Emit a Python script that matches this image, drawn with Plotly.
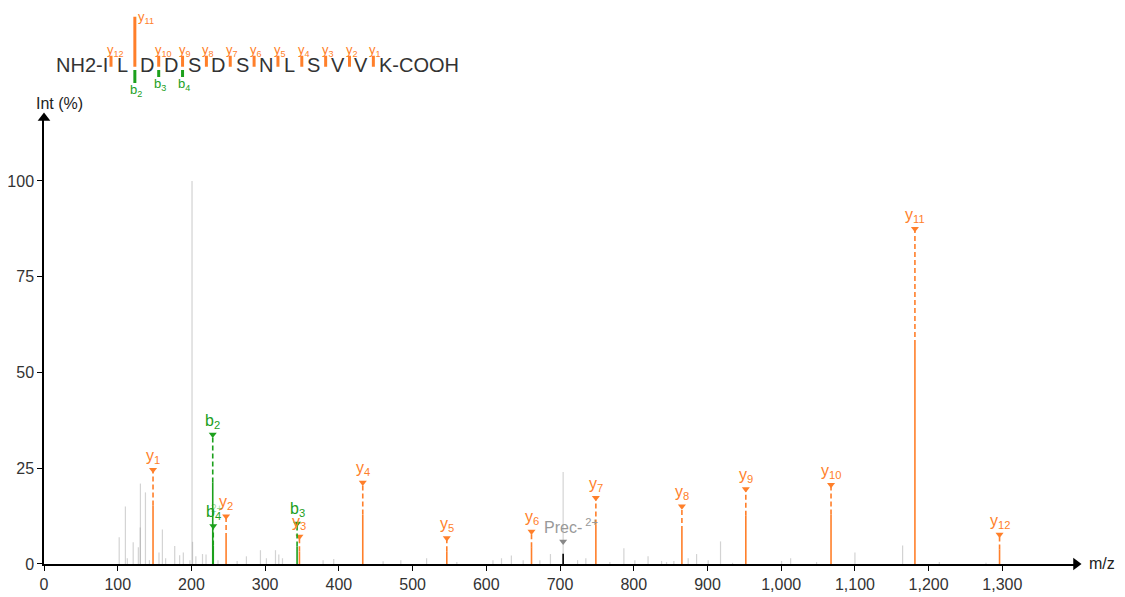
import plotly.graph_objects as go

# ---- data ------------------------------------------------------------------
sequence = "ILDDSDSNLSVVK"

# matched fragment ions: name, m/z, intensity (%), label level (%)
ion_names = ["y1", "b2", "b4", "y2", "b3", "y3", "y4", "y5", "y6",
             "y7", "y8", "y9", "y10", "y11", "y12"]
ion_mz = [147.9, 228.9, 229.6, 247.0, 343.3, 346.5, 432.4, 546.4, 661.3,
          748.6, 865.3, 952.0, 1067.6, 1181.4, 1296.2]
ion_int = [15.3, 21.3, 4.8, 6.8, 4.6, 3.3, 12.9, 3.3, 4.4,
           10.3, 8.6, 12.6, 12.9, 57.2, 3.8]
ion_label_y = [24.6, 33.8, 9.9, 12.5, 10.6, 7.2, 21.3, 6.8, 8.5,
               17.3, 15.1, 19.6, 20.7, 87.5, 7.7]
ion_charge = ["", "", "2+", "", "", "", "", "", "", "", "", "", "", "", ""]

prec_mz = 704.2
prec_int = 2.7
prec_label_y = 5.9

# unmatched peaks
noise_mz = [102.0, 110.4, 113.0, 121.0, 128.0, 130.8, 130.5, 137.6, 143.0,
            156.0, 160.6, 165.0, 177.3, 184.0, 189.0, 198.0, 200.8, 201.5,
            206.0, 215.0, 219.8, 236.0, 262.0, 274.6, 293.6, 301.7, 314.0,
            318.5, 323.5, 378.6, 393.0, 460.0, 484.0, 519.0, 560.0, 609.0,
            620.6, 634.0, 650.0, 672.6, 687.0, 704.2, 723.8, 735.0, 767.6,
            786.6, 801.5, 819.4, 837.7, 844.5, 854.4, 873.8, 885.2, 901.0,
            917.7, 934.0, 1000.5, 1012.8, 1048.0, 1100.0, 1164.7, 1214.5,
            1277.8]
noise_int = [7.0, 15.0, 1.5, 5.7, 4.4, 21.0, 9.5, 18.7, 1.0,
             3.0, 9.0, 1.5, 4.7, 2.3, 3.0, 1.0, 100.0, 5.8,
             2.0, 2.6, 2.5, 1.0, 0.8, 2.0, 3.6, 1.5, 3.6,
             2.5, 1.5, 1.0, 1.3, 0.7, 1.0, 1.5, 0.5, 1.0,
             1.5, 2.2, 1.0, 1.0, 2.6, 24.0, 1.0, 1.5, 0.5,
             4.1, 1.0, 2.0, 0.8, 0.5, 0.8, 1.5, 2.6, 1.0,
             5.9, 0.3, 0.8, 1.5, 0.5, 3.0, 4.8, 0.5, 0.3]

# fragment marks on the sequence (y1..y12, then b2..b4), length in px
seq_y_len = [11, 11, 11, 11, 11, 11, 11, 11, 11, 11, 50, 11]
seq_b_ions = [2, 3, 4]
seq_b_len = [13, 7, 7]

x_ticks = list(range(0, 1400, 100))
y_ticks = [0, 25, 50, 75, 100]

ORANGE = "#FF7F2A"
GREEN = "#1CA01C"
FONT = "Liberation Sans, Arial, sans-serif"

X_END = 1399.9
Y_END = 116.45


def stems(xs, y0s, y1s):
    px, py = [], []
    for x, a, b in zip(xs, y0s, y1s):
        px += [x, x, None]
        py += [a, b, None]
    return px, py


fig = go.Figure()

# gray peaks
sx, sy = stems(noise_mz, [0] * len(noise_mz), noise_int)
fig.add_trace(go.Scatter(x=sx, y=sy, mode="lines",
                         line=dict(color="rgba(150,150,150,0.42)", width=1.2),
                         hoverinfo="skip"))

annos = []
for col, letter in [(ORANGE, "y"), (GREEN, "b")]:
    idx = [i for i, n in enumerate(ion_names) if n[0] == letter]
    mz = [ion_mz[i] for i in idx]
    sx, sy = stems(mz, [0] * len(idx), [ion_int[i] for i in idx])
    fig.add_trace(go.Scatter(x=sx, y=sy, mode="lines",
                             line=dict(color=col, width=1.6), hoverinfo="skip"))
    sx, sy = stems(mz, [ion_int[i] for i in idx], [ion_label_y[i] for i in idx])
    fig.add_trace(go.Scatter(x=sx, y=sy, mode="lines",
                             line=dict(color=col, width=1.6, dash="5px,3px"),
                             hoverinfo="skip"))
    fig.add_trace(go.Scatter(x=mz, y=[ion_label_y[i] for i in idx], mode="markers",
                             marker=dict(symbol="triangle-down", size=7, color=col),
                             hoverinfo="skip"))
    for i in idx:
        annos.append(dict(x=ion_mz[i], y=ion_label_y[i], xref="x", yref="y",
                          text=f"{letter}<sub>{ion_names[i][1:]}</sub>",
                          showarrow=False, yanchor="bottom", yshift=2,
                          font=dict(family=FONT, size=16, color=col)))
        if ion_charge[i]:
            annos.append(dict(x=ion_mz[i], y=ion_label_y[i], xref="x", yref="y",
                              text=ion_charge[i], showarrow=False,
                              yanchor="bottom", yshift=10, xshift=4,
                              font=dict(family=FONT, size=10,
                                        color="rgba(28,160,28,0.45)")))

# precursor
fig.add_trace(go.Scatter(x=[prec_mz, prec_mz], y=[0, prec_int], mode="lines",
                         line=dict(color="black", width=1.6), hoverinfo="skip"))
fig.add_trace(go.Scatter(x=[prec_mz], y=[prec_label_y], mode="markers",
                         marker=dict(symbol="triangle-down", size=7, color="#888"),
                         hoverinfo="skip"))
annos.append(dict(x=prec_mz, y=prec_label_y, xref="x", yref="y",
                  text="Prec-<sup> 2+</sup>", showarrow=False, yanchor="bottom",
                  yshift=3, xshift=8, font=dict(family=FONT, size=16, color="#999")))

# axis arrow heads
fig.add_trace(go.Scatter(x=[0], y=[Y_END], mode="markers", cliponaxis=False,
                         marker=dict(symbol="triangle-up", size=11, color="black"),
                         hoverinfo="skip"))
fig.add_trace(go.Scatter(x=[X_END], y=[0], mode="markers", cliponaxis=False,
                         marker=dict(symbol="triangle-right", size=11, color="black"),
                         hoverinfo="skip"))
annos.append(dict(x=0, y=Y_END, xref="x", yref="y", text="Int (%)",
                  showarrow=False, xanchor="center", yanchor="bottom",
                  xshift=15, yshift=4, font=dict(family=FONT, size=16, color="#222")))
annos.append(dict(x=X_END, y=0, xref="x", yref="y", text="m/z",
                  showarrow=False, xanchor="left", yanchor="middle",
                  xshift=11, font=dict(family=FONT, size=16, color="#222")))

# ---- sequence with fragment marks -----------------------------------------
n_res = len(sequence)
yk = [n_res - 1 - n for n in range(1, n_res)]          # cleavage index of y_n
sx, sy = stems(yk, [0] * len(yk), seq_y_len)
fig.add_trace(go.Scatter(x=sx, y=sy, mode="lines", xaxis="x2", yaxis="y2",
                         line=dict(color=ORANGE, width=3), hoverinfo="skip"))
bk = [n - 1 for n in seq_b_ions]
sx, sy = stems(bk, [-3.3] * len(bk), [-3.3 - l for l in seq_b_len])
fig.add_trace(go.Scatter(x=sx, y=sy, mode="lines", xaxis="x2", yaxis="y2",
                         line=dict(color=GREEN, width=3), hoverinfo="skip"))

SEQ_Y = 1.5
seq_font = dict(family=FONT, size=20, color="#333")
annos.append(dict(x=0, y=SEQ_Y, xref="x2", yref="y2", text="NH2-" + sequence[0],
                  showarrow=False, xanchor="right", yanchor="middle", xshift=-1,
                  font=seq_font))
for i in range(1, n_res - 1):
    annos.append(dict(x=i - 0.5, y=SEQ_Y, xref="x2", yref="y2", text=sequence[i],
                      showarrow=False, xanchor="center", yanchor="middle",
                      font=seq_font))
annos.append(dict(x=n_res - 2, y=SEQ_Y, xref="x2", yref="y2",
                  text=sequence[-1] + "-COOH", showarrow=False, xanchor="left",
                  yanchor="middle", xshift=4, font=seq_font))

for n, k, l in zip(range(1, n_res), yk, seq_y_len):
    if l > 20:
        annos.append(dict(x=k, y=l, xref="x2", yref="y2", text=f"y<sub>{n}</sub>",
                          showarrow=False, xanchor="left", yanchor="middle",
                          xshift=1, yshift=-1,
                          font=dict(family=FONT, size=13, color=ORANGE)))
    else:
        annos.append(dict(x=k, y=l, xref="x2", yref="y2", text=f"y<sub>{n}</sub>",
                          showarrow=False, xanchor="left", yanchor="bottom",
                          xshift=-6, yshift=-5,
                          font=dict(family=FONT, size=13, color=ORANGE)))
for n, k, l in zip(seq_b_ions, bk, seq_b_len):
    annos.append(dict(x=k, y=-3.3 - l, xref="x2", yref="y2", text=f"b<sub>{n}</sub>",
                      showarrow=False, xanchor="center", yanchor="top", xshift=1,
                      yshift=3, font=dict(family=FONT, size=13, color=GREEN)))

# the page body adds an 8px offset, so margins are shifted to compensate
fig.update_layout(
    width=1125, height=597,
    margin=dict(l=36, r=57, t=0, b=41),
    separators=".,",
    paper_bgcolor="white", plot_bgcolor="white",
    showlegend=False,
    annotations=annos,
    xaxis=dict(range=[0, X_END], tickvals=x_ticks, tickformat=",",
               showline=True, linecolor="black", linewidth=1.5,
               ticks="outside", ticklen=5, tickcolor="black", tickwidth=1.2,
               showgrid=False, zeroline=False, automargin=False,
               tickfont=dict(family=FONT, size=16, color="#333")),
    yaxis=dict(range=[0, Y_END], domain=[0, 0.8022], tickvals=y_ticks,
               showline=True, linecolor="black", linewidth=1.5,
               ticks="outside", ticklen=5, tickcolor="black", tickwidth=1.2,
               showgrid=False, zeroline=False, automargin=False,
               tickfont=dict(family=FONT, size=16, color="#333")),
    xaxis2=dict(range=[-2.809, 40.46], domain=[0, 1], anchor="y2",
                visible=False, fixedrange=True),
    yaxis2=dict(range=[-46.9, 58.7], domain=[0.81, 1], anchor="x2",
                visible=False, fixedrange=True),
)

fig.write_html("out.html")
